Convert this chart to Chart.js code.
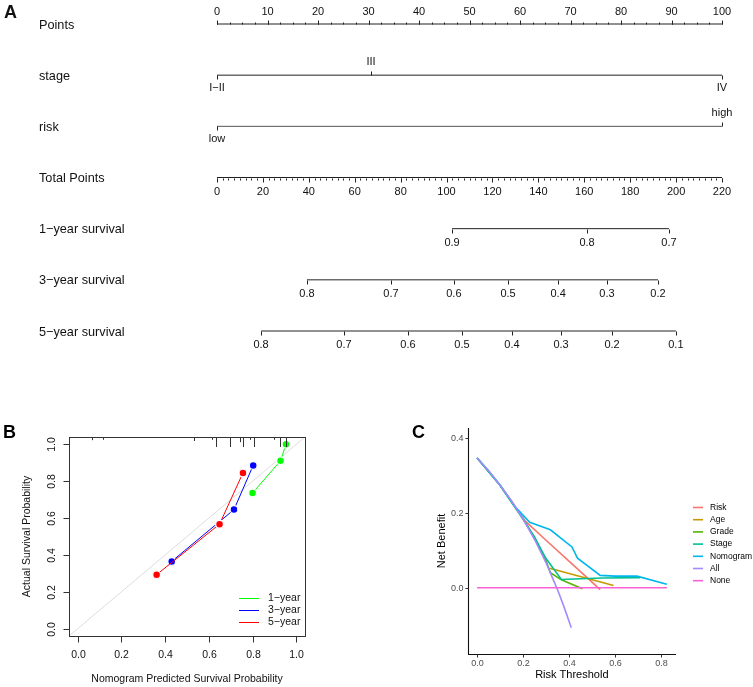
<!DOCTYPE html>
<html><head><meta charset="utf-8">
<script src="https://cdn.jsdelivr.net/npm/chart.js@4.4.1/dist/chart.umd.min.js"></script>
<style>
html,body{margin:0;padding:0;background:#fff;}
#wrap{position:relative;width:753px;height:687px;overflow:hidden;background:#fff;}
canvas{position:absolute;}
#cA{left:0;top:0;}
#cB{left:0;top:380px;}
#cC{left:380px;top:380px;}
</style></head><body>
<div id="wrap">
<canvas id="cA" width="753" height="360"></canvas>
<canvas id="cB" width="380" height="307"></canvas>
<canvas id="cC" width="373" height="307"></canvas>
</div>
<script>
// ---------------- Panel A: nomogram ----------------
const rowTitles = ['Points','stage','risk','Total Points','1\u2212year survival','3\u2212year survival','5\u2212year survival'];
const POINTS_MAX = 100;
const TOTAL_MAX = 220;
const pointsTicks = [0,10,20,30,40,50,60,70,80,90,100];
const stageLevels = ['I\u2212II','III','IV'];
const stagePoints = [0,30.5,100];
const stageSide = ['below','above','below'];
const riskLevels = ['low','high'];
const riskPoints = [0,100];
const riskSide = ['below','above'];
const totalTicks = [0,20,40,60,80,100,120,140,160,180,200,220];
const surv1Labels = ['0.9','0.8','0.7'];
const surv1Total = [102.4,161.2,196.9];
const surv3Labels = ['0.8','0.7','0.6','0.5','0.4','0.3','0.2'];
const surv3Total = [39.2,75.8,103.2,126.8,148.6,169.9,192.1];
const surv5Labels = ['0.8','0.7','0.6','0.5','0.4','0.3','0.2','0.1'];
const surv5Total = [19.2,55.3,83.2,106.7,128.5,149.9,172.1,199.9];

// ---------------- Panel B: calibration ----------------
const calPred1 = [0.800,0.928,0.953];
const calObs1  = [0.736,0.911,1.000];
const calPred3 = [0.430,0.715,0.803];
const calObs3  = [0.365,0.646,0.886];
const calPred5 = [0.361,0.649,0.756];
const calObs5  = [0.293,0.567,0.845];
const calLabels = ['1\u2212year','3\u2212year','5\u2212year'];
const calColors = ['#00FF00','#0000FF','#FF0000'];
const calTicks = [0,0.2,0.4,0.6,0.8,1.0];
const rugX = [0.063,0.115,0.534,0.614,0.634,0.698,0.744,0.756,0.787,0.805,0.896,0.927,0.954];
const rugH = [0.15,0.1,0.25,0.1,1,1,0.4,1,0.1,1,0.1,1,1];

// ---------------- Panel C: decision curves ----------------
const dcaNames = ['Risk','Age','Grade','Stage','Nomogram','All','None'];
const dcaColors = ['#F8766D','#C49A00','#53B400','#00C094','#00B6EB','#A58AFF','#FB61D7'];
const riskX = [0,0.1,0.21,0.3,0.4,0.536];
const riskY = [0.347,0.274,0.178,0.127,0.071,-0.005];
const ageX = [0.316,0.594];
const ageY = [0.052,0.006];
const gradeX = [0,0.1,0.2,0.25,0.3,0.319,0.367,0.41,0.458];
const gradeY = [0.347,0.274,0.184,0.135,0.072,0.040,0.021,0.010,-0.003];
const stageX = [0,0.1,0.2,0.25,0.3,0.367,0.45,0.55,0.71];
const stageY = [0.347,0.274,0.184,0.135,0.078,0.022,0.024,0.026,0.027];
const nomoX = [0,0.05,0.1,0.167,0.229,0.319,0.413,0.437,0.536,0.6,0.696,0.826];
const nomoY = [0.347,0.313,0.274,0.216,0.175,0.155,0.109,0.079,0.033,0.031,0.031,0.009];
const allX = [0,0.05,0.1,0.15,0.2,0.25,0.3,0.35,0.38,0.41];
const allY = [0.347,0.313,0.274,0.232,0.184,0.129,0.067,-0.005,-0.054,-0.107];
const noneX = [0,0.826];
const noneY = [0,0];
const dcaXTicks = [0,0.2,0.4,0.6,0.8];
const dcaYTicks = [0,0.2,0.4];

const FONT = '"Liberation Sans", Arial, Helvetica, sans-serif';
const zip = (xs, ys) => xs.map((v,i)=>({x:v,y:ys[i]}));

function baseOptions(pad, xr, yr, yReverse){
  return {
    responsive:false, animation:false, events:[],
    layout:{padding:pad},
    plugins:{legend:{display:false}, tooltip:{enabled:false}, title:{display:false}},
    scales:{
      x:{type:'linear', display:false, min:xr[0], max:xr[1]},
      y:{type:'linear', display:false, min:yr[0], max:yr[1], reverse:!!yReverse}
    },
    elements:{line:{tension:0}}
  };
}

// ---------- Chart A ----------
const toPts = t => t*POINTS_MAX/TOTAL_MAX;
function rowLine(x0, x1, row, color){
  return {data:[{x:x0,y:row},{x:x1,y:row}], showLine:true, borderColor:color||'#222', borderWidth:1, pointRadius:0, clip:false};
}
const dsA = [
  rowLine(pointsTicks[0], pointsTicks[pointsTicks.length-1], 0),
  rowLine(Math.min(...stagePoints), Math.max(...stagePoints), 1),
  rowLine(Math.min(...riskPoints), Math.max(...riskPoints), 2, '#555'),
  rowLine(toPts(totalTicks[0]), toPts(totalTicks[totalTicks.length-1]), 3),
  rowLine(toPts(surv1Total[0]), toPts(surv1Total[surv1Total.length-1]), 4),
  rowLine(toPts(surv3Total[0]), toPts(surv3Total[surv3Total.length-1]), 5),
  rowLine(toPts(surv5Total[0]), toPts(surv5Total[surv5Total.length-1]), 6)
];
const nomoPlugin = {
  id:'nomo',
  afterDatasetsDraw(chart){
    const {ctx, scales:{x,y}} = chart;
    const P = v => x.getPixelForValue(v);
    const R = i => y.getPixelForValue(i);
    ctx.save();
    ctx.strokeStyle='#222'; ctx.fillStyle='#111'; ctx.lineWidth=1;
    ctx.font = 'bold 18px '+FONT; ctx.textAlign='left'; ctx.textBaseline='middle';
    ctx.fillText('A', 4, 13);
    ctx.font = '12.7px '+FONT;
    rowTitles.forEach((t,i)=>ctx.fillText(t, 39, R(i)+1));
    function tick(px, py, len){
      const xx = Math.round(px)+0.5, yy = Math.round(py)+0.5;
      ctx.beginPath(); ctx.moveTo(xx, yy); ctx.lineTo(xx, yy+len); ctx.stroke();
    }
    function label(t, px, py){
      ctx.font='11px '+FONT; ctx.textAlign='center'; ctx.textBaseline='middle';
      ctx.fillText(t, px, py);
    }
    // Points
    for(let v=0; v<=POINTS_MAX+1e-9; v+=2.5){ tick(P(v), R(0), -2); }
    pointsTicks.forEach(v=>{ tick(P(v), R(0), -4); label(String(v), P(v), R(0)-12); });
    // stage
    stagePoints.forEach((v,i)=>{
      const up = stageSide[i]==='above';
      tick(P(v), R(1), up?-4:4);
      label(stageLevels[i], P(v), R(1)+(up?-13:13));
    });
    // risk
    riskPoints.forEach((v,i)=>{
      const up = riskSide[i]==='above';
      tick(P(v), R(2), up?-4:4);
      label(riskLevels[i], P(v), R(2)+(up?-13:13));
    });
    // total points
    for(let v=0; v<=TOTAL_MAX+1e-9; v+=2.5){ tick(P(toPts(v)), R(3), 2); }
    totalTicks.forEach(v=>{ tick(P(toPts(v)), R(3), 4); label(String(v), P(toPts(v)), R(3)+14); });
    // survival
    [[surv1Labels,surv1Total,4],[surv3Labels,surv3Total,5],[surv5Labels,surv5Total,6]].forEach(([labs,tot,row])=>{
      tot.forEach((t,i)=>{ tick(P(toPts(t)), R(row), 4); label(labs[i], P(toPts(t)), R(row)+14); });
    });
    ctx.restore();
  }
};
new Chart(document.getElementById('cA'), {
  type:'scatter',
  data:{datasets:dsA},
  options:baseOptions({left:217,right:31,top:24,bottom:29},[0,POINTS_MAX],[0,6],true),
  plugins:[nomoPlugin]
});

// ---------- Chart B ----------
const dsB = [
  {data:[{x:-0.04,y:-0.04},{x:1.04,y:1.04}], showLine:true, borderColor:'#dddddd', borderWidth:1, pointRadius:0, order:9},
  {label:calLabels[0], data:zip(calPred1,calObs1), showLine:true, borderColor:calColors[0], backgroundColor:calColors[0], borderWidth:1, pointRadius:3.9, pointBorderColor:'#fff', pointBorderWidth:1.3, order:3},
  {label:calLabels[1], data:zip(calPred3,calObs3), showLine:true, borderColor:calColors[1], backgroundColor:calColors[1], borderWidth:1, pointRadius:3.9, pointBorderColor:'#fff', pointBorderWidth:1.3, order:2},
  {label:calLabels[2], data:zip(calPred5,calObs5), showLine:true, borderColor:calColors[2], backgroundColor:calColors[2], borderWidth:1, pointRadius:3.9, pointBorderColor:'#fff', pointBorderWidth:1.3, order:1}
];
const calPlugin = {
  id:'cal',
  afterDatasetsDraw(chart){
    const {ctx, chartArea:a, scales:{x,y}} = chart;
    ctx.save();
    ctx.strokeStyle='#333'; ctx.fillStyle='#111'; ctx.lineWidth=1;
    ctx.strokeRect(Math.round(a.left)+0.5, Math.round(a.top)+0.5, Math.round(a.right-a.left), Math.round(a.bottom-a.top));
    // rug
    const rmax = Math.max(...rugH);
    rugX.forEach((v,i)=>{
      const px = Math.round(x.getPixelForValue(v))+0.5;
      ctx.beginPath(); ctx.moveTo(px, a.top); ctx.lineTo(px, a.top + 2 + 8*rugH[i]/rmax); ctx.stroke();
    });
    ctx.font='10.5px '+FONT; ctx.textBaseline='middle'; ctx.textAlign='center';
    const bot = Math.round(a.bottom)+0.5, lft = Math.round(a.left)+0.5;
    calTicks.forEach(v=>{
      const px = Math.round(x.getPixelForValue(v))+0.5;
      ctx.beginPath(); ctx.moveTo(px, bot); ctx.lineTo(px, bot+6); ctx.stroke();
      ctx.fillText(v.toFixed(1), px, bot+19);
      const py = Math.round(y.getPixelForValue(v))+0.5;
      ctx.beginPath(); ctx.moveTo(lft, py); ctx.lineTo(lft-6, py); ctx.stroke();
      ctx.save(); ctx.translate(lft-17, py); ctx.rotate(-Math.PI/2); ctx.fillText(v.toFixed(1), 0, 0); ctx.restore();
    });
    ctx.fillText('Nomogram Predicted Survival Probability', (a.left+a.right)/2, 299);
    ctx.save(); ctx.translate(27, (a.top+a.bottom)/2); ctx.rotate(-Math.PI/2);
    ctx.fillText('Actual Survival Probability', 0, 0); ctx.restore();
    // legend
    ctx.textAlign='left';
    calLabels.forEach((t,i)=>{
      const ly = 218.5 + i*12;
      ctx.strokeStyle = calColors[i];
      ctx.beginPath(); ctx.moveTo(239, ly); ctx.lineTo(259, ly); ctx.stroke();
      ctx.fillText(t, 268, ly);
    });
    ctx.font='bold 18px '+FONT; ctx.fillStyle='#000';
    ctx.fillText('B', 3, 53);
    ctx.restore();
  }
};
new Chart(document.getElementById('cB'), {
  type:'scatter',
  data:{datasets:dsB},
  options:baseOptions({left:69,right:75,top:57,bottom:51},[-0.04,1.04],[-0.04,1.04]),
  plugins:[calPlugin]
});

// ---------- Chart C ----------
const dcaSeries = [[riskX,riskY],[ageX,ageY],[gradeX,gradeY],[stageX,stageY],[nomoX,nomoY],[allX,allY],[noneX,noneY]];
const dsC = dcaSeries.map((s,i)=>({
  label:dcaNames[i], data:zip(s[0],s[1]), showLine:true, borderColor:dcaColors[i],
  borderWidth:1.6, pointRadius:0, order:dcaSeries.length-i, clip:false
}));
const dcaPlugin = {
  id:'dca',
  afterDatasetsDraw(chart){
    const {ctx, chartArea:a, scales:{x,y}} = chart;
    ctx.save();
    const lft = Math.round(a.left)+0.5, bot = Math.round(a.bottom)+0.5;
    ctx.strokeStyle='#111'; ctx.lineWidth=1.1;
    ctx.beginPath(); ctx.moveTo(lft, a.top); ctx.lineTo(lft, bot); ctx.lineTo(a.right, bot); ctx.stroke();
    ctx.strokeStyle='#333'; ctx.lineWidth=1;
    ctx.font='9px '+FONT; ctx.fillStyle='#4D4D4D'; ctx.textBaseline='middle';
    ctx.textAlign='center';
    dcaXTicks.forEach(v=>{
      const px = Math.round(x.getPixelForValue(v))+0.5;
      ctx.beginPath(); ctx.moveTo(px, bot); ctx.lineTo(px, bot+3); ctx.stroke();
      ctx.fillText(v.toFixed(1), px, bot+9);
    });
    ctx.textAlign='right';
    dcaYTicks.forEach(v=>{
      const py = Math.round(y.getPixelForValue(v))+0.5;
      ctx.beginPath(); ctx.moveTo(lft, py); ctx.lineTo(lft-3, py); ctx.stroke();
      ctx.fillText(v.toFixed(1), lft-5, py);
    });
    ctx.fillStyle='#000'; ctx.font='11px '+FONT; ctx.textAlign='center';
    ctx.fillText('Risk Threshold', (a.left+a.right)/2, 294.5);
    ctx.save(); ctx.translate(62, (a.top+a.bottom)/2); ctx.rotate(-Math.PI/2);
    ctx.fillText('Net Benefit', 0, 0); ctx.restore();
    // legend
    ctx.font='8.5px '+FONT; ctx.textAlign='left'; ctx.fillStyle='#000';
    dcaNames.forEach((n,i)=>{
      const ly = 127.5 + i*12.2;
      ctx.strokeStyle=dcaColors[i]; ctx.lineWidth=1.6;
      ctx.beginPath(); ctx.moveTo(313, ly); ctx.lineTo(323, ly); ctx.stroke();
      ctx.fillText(n, 330, ly);
    });
    ctx.font='bold 18px '+FONT;
    ctx.fillText('C', 32, 53);
    ctx.restore();
  }
};
new Chart(document.getElementById('cC'), {
  type:'scatter',
  data:{datasets:dsC},
  options:baseOptions({left:87.7,right:77,top:48,bottom:33},[-0.041,0.866],[-0.1775,0.4275]),
  plugins:[dcaPlugin]
});
</script>
</body></html>
